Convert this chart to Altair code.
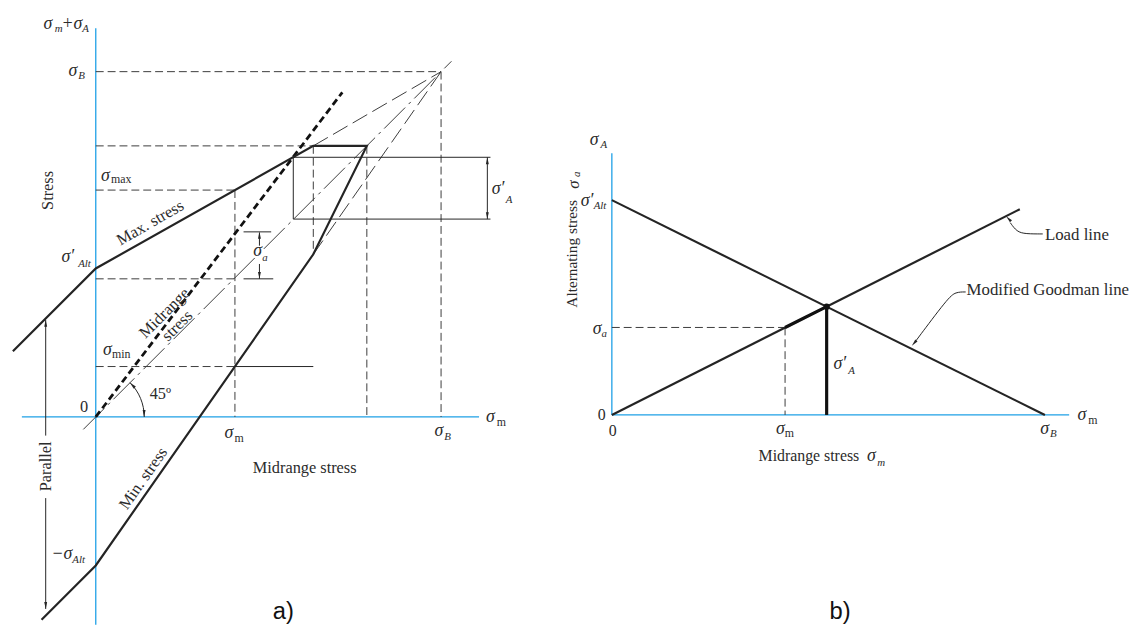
import altair as alt
import pandas as pd

INK = "#242424"
DASH = "#3c3c3c"
BLUE = "#1ea0e6"
TXT = "#2b2b2b"
SERIF = "Liberation Serif"
ARROW = "M0,-1L0.42,1L-0.42,1Z"
ARC45 = "M0.7071,-0.7071A1,1,0,0,1,1,0"

# ---------------- panel a) values (stress units, sigma_B = 100) ----------------
A_THICK_U = [-24, 0, 63, 78.5, 63, 0, -15.7]
A_THICK_V = [19, 43, 78.5, 78.5, 47.1, -43, -58.7]

A_AXIS_U1 = [0, -21.4]
A_AXIS_V1 = [-60.2, 0]
A_AXIS_U2 = [0, 111]
A_AXIS_V2 = [112.6, 0]

A_DASH_U1 = [0, 100, 0, 0, 40.3, 0, 0, 63, 78.5]
A_DASH_V1 = [100, 100, 78.5, 65.7, 65.7, 40, 14.6, 78.5, 78.5]
A_DASH_U2 = [100, 100, 63, 40.3, 40.3, 40.3, 40.3, 63, 78.5]
A_DASH_V2 = [100, 0, 78.5, 65.7, 0, 40, 14.6, 47.1, 0]

A_THIN_U1 = [40.3, 57.2, 57.2, 57.2, 42.8, 42.8, 47.4, 47.4, 113.4, -14.5, -14.5]
A_THIN_V1 = [14.6, 75.2, 57.3, 75.2, 53.6, 40, 53.4, 44.3, 75.2, 28.1, -23.5]
A_THIN_U2 = [63, 114.3, 114.3, 57.2, 50.8, 51.4, 47.4, 47.4, 113.4, -14.5, -14.5]
A_THIN_V2 = [14.6, 75.2, 57.3, 57.3, 53.6, 40, 49.6, 40, 57.3, -5.4, -55.6]

A_LONG_U1 = [63, 63]
A_LONG_V1 = [78.5, 47.1]
A_LONG_U2 = [100, 100]
A_LONG_V2 = [100, 100]

A_MID_U1 = [-3.6]
A_MID_V1 = [-3.6]
A_MID_U2 = [103]
A_MID_V2 = [103]

A_LOAD_U1 = [0]
A_LOAD_V1 = [0]
A_LOAD_U2 = [71.4]
A_LOAD_V2 = [94]

A_ARW_U = [47.4, 47.4, 113.4, 113.4, -14.5, -14.5, 10.6, 14.0]
A_ARW_V = [52.6, 41.0, 74.2, 58.3, 27.1, -54.6, 9.2, 1.0]
A_ARW_ANG = [0, 180, 0, 180, 0, 180, 315, 180]

A_SYM_T = ["σ", "+σ", "σ", "σ", "σ′", "σ", "σ", "σ", "σ", "σ", "−σ", "σ′"]
A_SYM_U = [-15.1, -9.9, -7.9, 1.5, -9.9, 45.6, 2.1, 37.3, 98.1, 113.0, -12.8, 114.7]
A_SYM_V = [113.8, 113.8, 100.3, 69.9, 46.4, 47.9, 19.5, -4.6, -4.0, 0.0, -39.8, 65.9]

A_ISUB_T = ["m", "A", "B", "Alt", "a", "B", "Alt", "A"]
A_ISUB_U = [-11.9, -3.9, -5.1, -5.1, 48.2, 100.9, -6.8, 118.7]
A_ISUB_V = [112.3, 112.3, 98.6, 44.4, 46.1, -5.7, -41.5, 62.8]

A_USUB_T = ["max", "min", "m", "m"]
A_USUB_U = [4.4, 4.7, 40.2, 116.1]
A_USUB_V = [68.8, 18.1, -6.0, -1.4]

A_WORD_T = ["Stress", "Max. stress", "Midrange", "stress", "Min. stress",
            "Midrange stress", "Parallel", "0", "45º"]
A_WORD_U = [-13.7, 15.8, 19.9, 23.6, 13.8, 60.5, -14.5, -3.4, 18.7]
A_WORD_V = [65.6, 56.2, 30.1, 26.4, -17.8, -14.9, -14.3, 2.9, 6.6]
A_WORD_ANG = [270, 330, 315, 315, 305, 0, 270, 0, 0]

A_TAG = ["a)"]
A_TAG_U = [54.3]
A_TAG_V = [-56.4]

# ---------------- panel b) values (stress units, sigma_B = 100) ----------------
B_AXIS_U1 = [0, 0]
B_AXIS_V1 = [0, 0]
B_AXIS_U2 = [0, 105.6]
B_AXIS_V2 = [60.4, 0]

B_LINE_U1 = [0, 0]          # Goodman line, load line
B_LINE_V1 = [49.6, 0]
B_LINE_U2 = [100, 94.2]
B_LINE_V2 = [0, 47.5]

B_HEAVY_U1 = [40, 49.6]
B_HEAVY_V1 = [20.2, 0]
B_HEAVY_U2 = [49.6, 49.6]
B_HEAVY_V2 = [25, 25]

B_DASH_U1 = [0, 40]
B_DASH_V1 = [20.2, 20.2]
B_DASH_U2 = [40, 40]
B_DASH_V2 = [20.2, 0]

B_LEAD_ID = ["load"] * 4 + ["goodman"] * 4
B_LEAD_U = [99.5, 95.5, 93.5, 92.0, 81.7, 79.4, 77.6, 70.2]
B_LEAD_V = [41.8, 41.8, 42.3, 44.4, 28.4, 28.4, 27.0, 17.1]

B_ARW_U = [91.6, 69.8]
B_ARW_V = [45.3, 16.6]
B_ARW_ANG = [315, 221]

B_DOT_U = [49.6]
B_DOT_V = [25]

B_SYM_T = ["σ", "σ′", "σ", "σ", "σ′", "σ", "σ", "σ"]
B_SYM_U = [-5.1, -7.2, -4.4, 37.9, 51.2, 98.9, 107.5, 58.9]
B_SYM_V = [63.5, 49.3, 19.9, -3.2, 11.7, -3.2, 0.0, -9.6]

B_ISUB_T = ["A", "Alt", "a", "A", "B", "m"]
B_ISUB_U = [-2.6, -4.2, -2.4, 54.6, 101.2, 61.3]
B_ISUB_V = [62.4, 48.2, 18.7, 10.1, -4.3, -11.0]

B_USUB_T = ["m", "m"]
B_USUB_U = [39.9, 110.0]
B_USUB_V = [-4.1, -1.1]

B_LWORD_T = ["Load line", "Modified Goodman line"]
B_LWORD_U = [100.0, 81.9]
B_LWORD_V = [41.6, 28.8]

B_CWORD_T = ["Midrange stress", "0", "0"]
B_CWORD_U = [45.5, -2.35, 0.2]
B_CWORD_V = [-9.6, 0.0, -3.7]

B_ROT_T = ["Alternating stress"]
B_ROT_U = [-9.2]
B_ROT_V = [37.2]
B_ROTSYM_T = ["σ"]
B_ROTSYM_U = [-8.7]
B_ROTSYM_V = [53.2]
B_ROTSUB_T = ["a"]
B_ROTSUB_U = [-8.1]
B_ROTSUB_V = [55.6]

B_TAG = ["b)"]
B_TAG_U = [52.7]
B_TAG_V = [-45.5]


# ---------------- helpers ----------------
def enc_xy(xs, ys):
    return dict(x=alt.X("u:Q", scale=xs, axis=None), y=alt.Y("v:Q", scale=ys, axis=None))


def rules(u1, v1, u2, v2, xs, ys, **mk):
    df = pd.DataFrame({"u": u1, "v": v1, "u2": u2, "v2": v2})
    return alt.Chart(df).mark_rule(**mk).encode(x2="u2:Q", y2="v2:Q", **enc_xy(xs, ys))


def polyline(u, v, xs, ys, group=None, **mk):
    df = pd.DataFrame({"u": u, "v": v, "o": list(range(len(u))),
                       "g": group if group else ["g"] * len(u)})
    return alt.Chart(df).mark_line(**mk).encode(order="o:Q", detail="g:N", **enc_xy(xs, ys))


def arrows(u, v, ang, xs, ys):
    df = pd.DataFrame({"u": u, "v": v, "ang": ang})
    return alt.Chart(df).mark_point(shape=ARROW, size=49, filled=True, opacity=1,
                                     color=INK, strokeWidth=0).encode(
        angle=alt.Angle("ang:Q", scale=None), **enc_xy(xs, ys))


def texts(t, u, v, xs, ys, ang=None, **mk):
    df = pd.DataFrame({"t": t, "u": u, "v": v, "ang": ang if ang else [0] * len(t)})
    return alt.Chart(df).mark_text(**mk).encode(
        text="t:N", angle=alt.Angle("ang:Q", scale=None), **enc_xy(xs, ys))


# ---------------- panel a) ----------------
xa = alt.Scale(domain=[-24.27, 127.59], nice=False, zero=False)
ya = alt.Scale(domain=[-60.17, 117.48], nice=False, zero=False)

sym_a = dict(font=SERIF, fontStyle="italic", align="left", baseline="middle", color=TXT)
panel_a = alt.layer(
    rules(A_AXIS_U1, A_AXIS_V1, A_AXIS_U2, A_AXIS_V2, xa, ya, color=BLUE, strokeWidth=1.3),
    rules(A_DASH_U1, A_DASH_V1, A_DASH_U2, A_DASH_V2, xa, ya, color=DASH, strokeWidth=1,
          strokeDash=[8, 4]),
    rules(A_LONG_U1, A_LONG_V1, A_LONG_U2, A_LONG_V2, xa, ya, color=DASH, strokeWidth=1,
          strokeDash=[17, 6]),
    rules(A_MID_U1, A_MID_V1, A_MID_U2, A_MID_V2, xa, ya, color=DASH, strokeWidth=1,
          strokeDash=[30, 5, 3, 5]),
    rules(A_THIN_U1, A_THIN_V1, A_THIN_U2, A_THIN_V2, xa, ya, color=INK, strokeWidth=1),
    rules(A_LOAD_U1, A_LOAD_V1, A_LOAD_U2, A_LOAD_V2, xa, ya, color="#111111", strokeWidth=2.8,
          strokeDash=[7, 4]),
    polyline(A_THICK_U, A_THICK_V, xa, ya, color=INK, strokeWidth=2.2, strokeJoin="miter"),
    alt.Chart(pd.DataFrame({"u": [0], "v": [0]})).mark_point(
        shape=ARC45, size=9604, filled=False, opacity=1, color=INK, strokeWidth=1
    ).encode(**enc_xy(xa, ya)),
    arrows(A_ARW_U, A_ARW_V, A_ARW_ANG, xa, ya),
    texts(A_SYM_T, A_SYM_U, A_SYM_V, xa, ya, fontSize=18, **sym_a),
    texts(A_ISUB_T, A_ISUB_U, A_ISUB_V, xa, ya, fontSize=11, **sym_a),
    texts(A_USUB_T, A_USUB_U, A_USUB_V, xa, ya, fontSize=12, font=SERIF, align="left",
          baseline="middle", color=TXT),
    texts(A_WORD_T, A_WORD_U, A_WORD_V, xa, ya, ang=A_WORD_ANG, fontSize=16.5, font=SERIF,
          align="center", baseline="middle", color=TXT),
    texts(A_TAG, A_TAG_U, A_TAG_V, xa, ya, fontSize=24, font="Liberation Sans",
          align="center", baseline="middle", color="#111111"),
).properties(width=530, height=620)

# ---------------- panel b) ----------------
xb = alt.Scale(domain=[-15.15, 117.82], nice=False, zero=False)
yb = alt.Scale(domain=[-48.44, 93.21], nice=False, zero=False)

panel_b = alt.layer(
    rules(B_AXIS_U1, B_AXIS_V1, B_AXIS_U2, B_AXIS_V2, xb, yb, color=BLUE, strokeWidth=1.3),
    rules(B_DASH_U1, B_DASH_V1, B_DASH_U2, B_DASH_V2, xb, yb, color=DASH, strokeWidth=1,
          strokeDash=[8, 4]),
    rules(B_LINE_U1, B_LINE_V1, B_LINE_U2, B_LINE_V2, xb, yb, color=INK, strokeWidth=2.2),
    rules(B_HEAVY_U1, B_HEAVY_V1, B_HEAVY_U2, B_HEAVY_V2, xb, yb, color="#111111",
          strokeWidth=3.2),
    polyline(B_LEAD_U, B_LEAD_V, xb, yb, group=B_LEAD_ID, color=INK, strokeWidth=1,
             interpolate="basis"),
    arrows(B_ARW_U, B_ARW_V, B_ARW_ANG, xb, yb),
    alt.Chart(pd.DataFrame({"u": B_DOT_U, "v": B_DOT_V})).mark_point(
        filled=True, size=40, opacity=1, color="#111111").encode(**enc_xy(xb, yb)),
    texts(B_SYM_T, B_SYM_U, B_SYM_V, xb, yb, fontSize=18, **sym_a),
    texts(B_ISUB_T, B_ISUB_U, B_ISUB_V, xb, yb, fontSize=11, **sym_a),
    texts(B_USUB_T, B_USUB_U, B_USUB_V, xb, yb, fontSize=12, font=SERIF, align="left",
          baseline="middle", color=TXT),
    texts(B_LWORD_T, B_LWORD_U, B_LWORD_V, xb, yb, fontSize=17, font=SERIF, align="left",
          baseline="middle", color=TXT),
    texts(B_CWORD_T, B_CWORD_U, B_CWORD_V, xb, yb, fontSize=16, font=SERIF, align="center",
          baseline="middle", color=TXT),
    texts(B_ROT_T, B_ROT_U, B_ROT_V, xb, yb, ang=[270], fontSize=15.5, font=SERIF,
          align="center", baseline="middle", color=TXT),
    texts(B_ROTSYM_T, B_ROTSYM_U, B_ROTSYM_V, xb, yb, ang=[270], fontSize=17, font=SERIF,
          fontStyle="italic", align="center", baseline="middle", color=TXT),
    texts(B_ROTSUB_T, B_ROTSUB_U, B_ROTSUB_V, xb, yb, ang=[270], fontSize=11, font=SERIF,
          fontStyle="italic", align="center", baseline="middle", color=TXT),
    texts(B_TAG, B_TAG_U, B_TAG_V, xb, yb, fontSize=24, font="Liberation Sans",
          align="center", baseline="middle", color="#111111"),
).properties(width=582, height=620)

chart = alt.hconcat(panel_a, panel_b, spacing=10).properties(
    padding=0, background="white"
).configure_view(stroke=None)

chart.save("out.html", embed_options={"renderer": "svg", "actions": False})
